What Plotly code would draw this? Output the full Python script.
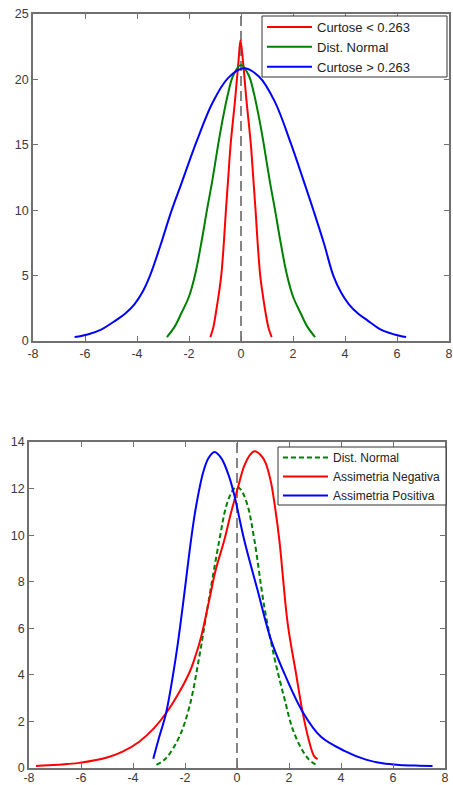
import plotly.graph_objects as go

# ---- Curtose (upper panel) ----
kurt_low_x = [-1.18, -1.07, -0.97, -0.86, -0.76, -0.66, -0.58, -0.49, -0.4, -0.23, -0.1, -0.02,
              0.08, 0.21, 0.38, 0.47, 0.56, 0.64, 0.74, 0.84, 0.95, 1.06, 1.18]
kurt_low_y = [0.3, 1.0, 2.1, 3.5, 5.0, 7.5, 10.0, 12.5, 15.0, 18.4, 21.3, 23.0,
              21.3, 18.4, 15.0, 12.5, 10.0, 7.5, 5.0, 3.5, 2.1, 1.0, 0.3]

normal_top_x = [-2.85, -2.55, -2.3, -2.0, -1.75, -1.5, -1.31, -1.1, -0.88, -0.7, -0.5, -0.3, 0.0,
                0.3, 0.5, 0.7, 0.88, 1.1, 1.31, 1.5, 1.75, 2.0, 2.3, 2.55, 2.85]
normal_top_y = [0.3, 1.1, 2.1, 3.4, 5.2, 7.8, 10.0, 12.3, 15.0, 17.0, 18.9, 20.3, 21.1,
                20.3, 18.9, 17.0, 15.0, 12.3, 10.0, 7.8, 5.2, 3.4, 2.1, 1.1, 0.3]

kurt_high_x = [-6.4, -5.9, -5.4, -4.8, -4.45, -4.1, -3.8, -3.5, -3.1, -2.7, -2.3, -1.7, -1.1,
               -0.5, 0.1, 0.7, 1.3, 1.9, 2.4, 2.8, 3.2, 3.55, 3.85, 4.15, 4.5, 4.85, 5.4,
               5.9, 6.35]
kurt_high_y = [0.3, 0.5, 0.85, 1.6, 2.1, 2.8, 3.7, 5.0, 7.3, 9.8, 12.0, 15.3, 18.2,
               20.1, 20.85, 20.2, 18.3, 15.2, 12.3, 9.9, 7.4, 5.0, 3.7, 2.8, 2.1, 1.6, 0.85,
               0.5, 0.3]

# ---- Assimetria (lower panel) ----
normal_bot_x = [-3.1, -2.73, -2.22, -1.83, -1.45, -1.13, -0.68, -0.4, -0.15, 0.0,
                0.15, 0.4, 0.67, 1.05, 1.43, 1.82, 2.2, 2.72, 3.05]
normal_bot_y = [0.13, 0.42, 1.34, 2.63, 4.78, 6.92, 9.78, 11.3, 11.95, 12.07,
                11.95, 11.3, 9.78, 6.92, 4.78, 3.0, 1.49, 0.42, 0.13]

skew_neg_x = [-7.73, -6.9, -6.07, -5.0, -4.4, -3.76, -3.2, -2.73, -2.3, -1.83, -1.6, -1.38, -1.07,
              -0.82, -0.49, -0.22, 0.05, 0.27, 0.5, 0.68, 0.9, 1.1, 1.3, 1.45, 1.63, 1.95, 2.27,
              2.52, 2.75, 2.97, 3.1]
skew_neg_y = [0.09, 0.14, 0.22, 0.45, 0.7, 1.13, 1.7, 2.35, 3.1, 4.1, 4.8, 5.63, 7.2,
              8.5, 9.78, 11.0, 12.1, 12.95, 13.45, 13.6, 13.45, 13.1, 12.3, 11.3, 9.78, 6.2, 4.06,
              2.42, 1.25, 0.5, 0.38]

skew_pos_x = [-3.22, -3.0, -2.73, -2.35, -2.09, -1.77, -1.58, -1.3, -1.1, -0.87, -0.6, -0.3,
              -0.1, 0.28, 0.79, 1.31, 1.82, 2.52, 3.23, 4.13, 4.96, 5.6, 6.24, 7.0, 7.52]
skew_pos_y = [0.4, 1.3, 2.35, 4.78, 6.92, 9.78, 11.2, 12.7, 13.3, 13.57, 13.3, 12.5,
              11.7, 9.78, 7.64, 5.49, 4.06, 2.42, 1.34, 0.74, 0.36, 0.2, 0.13, 0.1, 0.09]

x_ticks = [-8, -6, -4, -2, 0, 2, 4, 6, 8]
y_ticks_top = [0, 5, 10, 15, 20, 25]
y_ticks_bot = [0, 2, 4, 6, 8, 10, 12, 14]

RED = "#ff0000"
GREEN = "#008000"
BLUE = "#0000ff"
W, H = 453, 785

fig = go.Figure()


def curve(x, y, name, color, xa, ya, legend, dash="solid"):
    fig.add_trace(go.Scatter(
        x=x, y=y, name=name, mode="lines",
        line=dict(color=color, width=2, shape="spline", smoothing=1.0, dash=dash),
        xaxis=xa, yaxis=ya, legend=legend,
    ))


curve(kurt_low_x, kurt_low_y, "Curtose < 0.263", RED, "x", "y", "legend")
curve(normal_top_x, normal_top_y, "Dist. Normal", GREEN, "x", "y", "legend")
curve(kurt_high_x, kurt_high_y, "Curtose > 0.263", BLUE, "x", "y", "legend")

curve(normal_bot_x, normal_bot_y, "Dist. Normal", GREEN, "x2", "y2", "legend2", dash="5px,3px")
curve(skew_neg_x, skew_neg_y, "Assimetria Negativa", RED, "x2", "y2", "legend2")
curve(skew_pos_x, skew_pos_y, "Assimetria Positiva", BLUE, "x2", "y2", "legend2")

# vertical reference line at zero in each panel
for xr, yr, top in (("x", "y", y_ticks_top[-1]), ("x2", "y2", y_ticks_bot[-1])):
    fig.add_shape(type="line", xref=xr, yref=yr, x0=0, x1=0, y0=0, y1=top,
                  line=dict(color="#444444", width=1.3, dash="10px,5px"), layer="below")


def px_x(p):
    return p / W


def px_y(p):
    return (H - p) / H


# framed boxes that hold each legend
for left, top, right, bottom in ((262, 16, 447, 77), (278, 447, 446, 505)):
    fig.add_shape(type="rect", xref="paper", yref="paper",
                  x0=px_x(left), x1=px_x(right), y0=px_y(bottom), y1=px_y(top),
                  line=dict(color="#333333", width=1), fillcolor="white", layer="above")

axis_common = dict(
    showline=True, linecolor="#707070", linewidth=1.5, mirror="ticks",
    ticks="inside", ticklen=5, tickcolor="#707070", tickwidth=1,
    showgrid=False, zeroline=False, automargin=False,
    tickfont=dict(family="Liberation Sans, Arial, sans-serif", size=12.5, color="#3a3a3a"),
)


def labels(vals):
    return [str(v) for v in vals]


def legend_font(size):
    return dict(family="Liberation Sans, Arial, sans-serif", size=size, color="#222222")


fig.update_layout(
    width=W, height=H,
    margin=dict(l=0, r=0, t=0, b=0, autoexpand=False),
    paper_bgcolor="white", plot_bgcolor="white",
    xaxis=dict(domain=[px_x(33), px_x(449)], range=[-8, 8], tickvals=x_ticks,
               ticktext=labels(x_ticks), anchor="y", **axis_common),
    yaxis=dict(domain=[px_y(341), px_y(14)], range=[0, 25], tickvals=y_ticks_top,
               ticktext=labels(y_ticks_top), anchor="x", **axis_common),
    xaxis2=dict(domain=[px_x(29), px_x(445)], range=[-8, 8], tickvals=x_ticks,
                ticktext=labels(x_ticks), anchor="y2", ticklabelstandoff=-3,
                **axis_common),
    yaxis2=dict(domain=[px_y(768), px_y(442)], range=[0, 14], tickvals=y_ticks_bot,
                ticktext=labels(y_ticks_bot), anchor="x2", **axis_common),
    legend=dict(
        x=px_x(262), y=px_y(12), xanchor="left", yanchor="top",
        bgcolor="rgba(0,0,0,0)", borderwidth=0,
        font=legend_font(13), itemwidth=45, tracegroupgap=0,
    ),
    legend2=dict(
        x=px_x(278), y=px_y(443), xanchor="left", yanchor="top",
        bgcolor="rgba(0,0,0,0)", borderwidth=0,
        font=legend_font(12), itemwidth=45, tracegroupgap=0,
    ),
    showlegend=True,
)

fig.write_html("out.html")
